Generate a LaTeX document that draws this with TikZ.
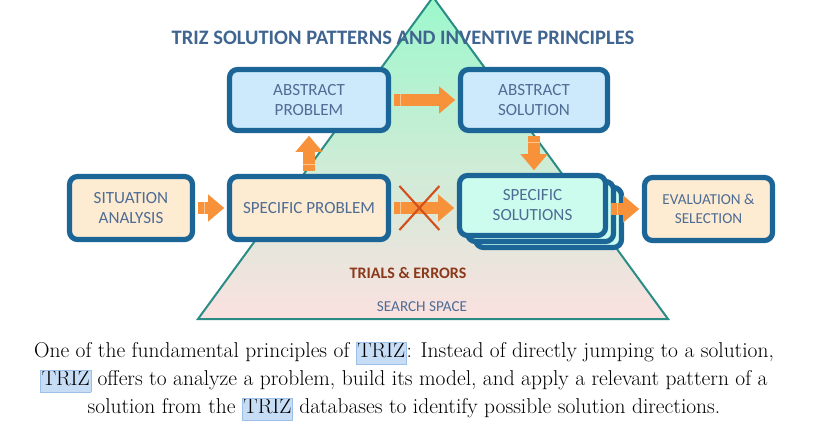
\documentclass[tikz,border=0pt]{standalone}
\usepackage{fontspec}
\usepackage{tikz}
\usetikzlibrary{arrows.meta}
\newfontfamily\boxfont{Carlito}

\definecolor{boxline}{HTML}{1C6697}
\definecolor{boxtext}{HTML}{4F6C95}
\definecolor{titletext}{HTML}{3F6590}
\definecolor{bluefill}{HTML}{CCEAFB}
\definecolor{peachfill}{HTML}{FDEBD2}
\definecolor{mintfill}{HTML}{CCFCEE}
\definecolor{arroworange}{HTML}{F7923A}
\definecolor{arrowlight}{HTML}{FCC58E}
\definecolor{crossred}{HTML}{D2501E}
\definecolor{triline}{HTML}{2A8C85}
\definecolor{tritop}{HTML}{9CF8CC}
\definecolor{tribottom}{HTML}{FBE1E0}
\definecolor{trialtext}{HTML}{8A3A1A}
\definecolor{hlfill}{HTML}{C7DDF5}
\definecolor{hlline}{HTML}{9DC0E8}

\newcommand{\trizmark}[1]{{\setlength{\fboxsep}{0.6pt}\setlength{\fboxrule}{0.4pt}\fcolorbox{hlline}{hlfill}{\rule[-3.8pt]{0pt}{14pt}#1}}}

\tikzset{
  trizbox/.style={draw=boxline, line width=3.9pt, rounded corners=6pt,
    align=center, text=boxtext, inner sep=0pt,
    font=\boxfont\fontsize{12.8}{15}\selectfont},
  abstbox/.style={trizbox, fill=bluefill},
  probbox/.style={trizbox, fill=peachfill},
  solbox/.style={trizbox, fill=mintfill},
  blockarrow/.style={draw=arroworange, line width=9.5pt,
    -{Triangle[width=19.5pt,length=12pt]}, shorten <=2pt, shorten >=2pt,
    postaction={draw=arrowlight, -, dash pattern=on 0pt off 4.5pt on 0.8pt off 400pt}},
  crossmark/.style={draw=crossred, line width=1.6pt},
}

\begin{document}
\begin{tikzpicture}[x=0.75pt, y=-0.75pt]
\useasboundingbox (0,0) rectangle (827,432);

% search space
\coordinate (apex) at (433,-3);
\coordinate (baseL) at (198,319);
\coordinate (baseR) at (668,319);
\draw[triline, line width=1.5pt, top color=tritop, bottom color=tribottom]
  (apex) -- (baseL) -- (baseR) -- cycle;

\node[font=\boxfont\bfseries\fontsize{15.4}{17}\selectfont, text=titletext]
  (title) at (403,38) {TRIZ SOLUTION PATTERNS AND INVENTIVE PRINCIPLES};

% boxes
\node[abstbox, minimum width=119.25pt, minimum height=45.75pt]
  (absprob) at (309,100) {ABSTRACT\\PROBLEM};
\node[abstbox, minimum width=110.25pt, minimum height=45.75pt]
  (abssol) at (534,100) {ABSTRACT\\SOLUTION};
\node[probbox, minimum width=92.25pt, minimum height=47.25pt]
  (sitan) at (131,208) {SITUATION\\ANALYSIS};
\node[probbox, minimum width=119.25pt, minimum height=47.25pt]
  (specprob) at (309,208) {SPECIFIC PROBLEM};
\node[solbox, minimum width=109.5pt, minimum height=45pt]
  (specsolc) at (548.5,217.5) {};
\node[solbox, minimum width=109.5pt, minimum height=45pt]
  (specsolb) at (540.5,211.5) {};
\node[solbox, minimum width=109.5pt, minimum height=45pt]
  (specsol) at (532.5,205.5) {SPECIFIC\\SOLUTIONS};
\node[probbox, minimum width=96pt, minimum height=47.25pt,
  font=\boxfont\fontsize{11.4}{14}\selectfont]
  (evalsel) at (708.5,209) {EVALUATION \&\\SELECTION};

% arrows
\draw[blockarrow] (sitan.east) -- (specprob.west);
\draw[blockarrow] (specprob.north) -- (absprob.south);
\draw[blockarrow] (absprob.east) -- (abssol.west);
\draw[blockarrow] (abssol.south) -- (abssol.south |- specsol.north);
\draw[blockarrow] (specprob.east) -- (specprob.east -| specsol.west)
  coordinate[pos=0.43] (cross);
\draw[blockarrow] (evalsel.west -| specsol.east) -- (evalsel.west);
\draw[crossmark] ([shift={(-20,-22)}]cross) -- ([shift={(20,22)}]cross);
\draw[crossmark] ([shift={(20,-22)}]cross) -- ([shift={(-20,22)}]cross);

\node[font=\boxfont\bfseries\fontsize{12}{14}\selectfont, text=trialtext]
  (trials) at (408,273) {TRIALS \& ERRORS};
\node[font=\boxfont\fontsize{11.4}{13}\selectfont, text=boxtext]
  (space) at (422,307) {SEARCH SPACE};

% caption
\node[align=center, font=\fontsize{16.1}{21}\selectfont] (caption) at (404,381)
  {One of the fundamental principles of \trizmark{TRIZ}: Instead of directly jumping to a solution,\\
   \trizmark{TRIZ} offers to analyze a problem, build its model, and apply a relevant pattern of a\\
   solution from the \trizmark{TRIZ} databases to identify possible solution directions.};
\end{tikzpicture}
\end{document}
